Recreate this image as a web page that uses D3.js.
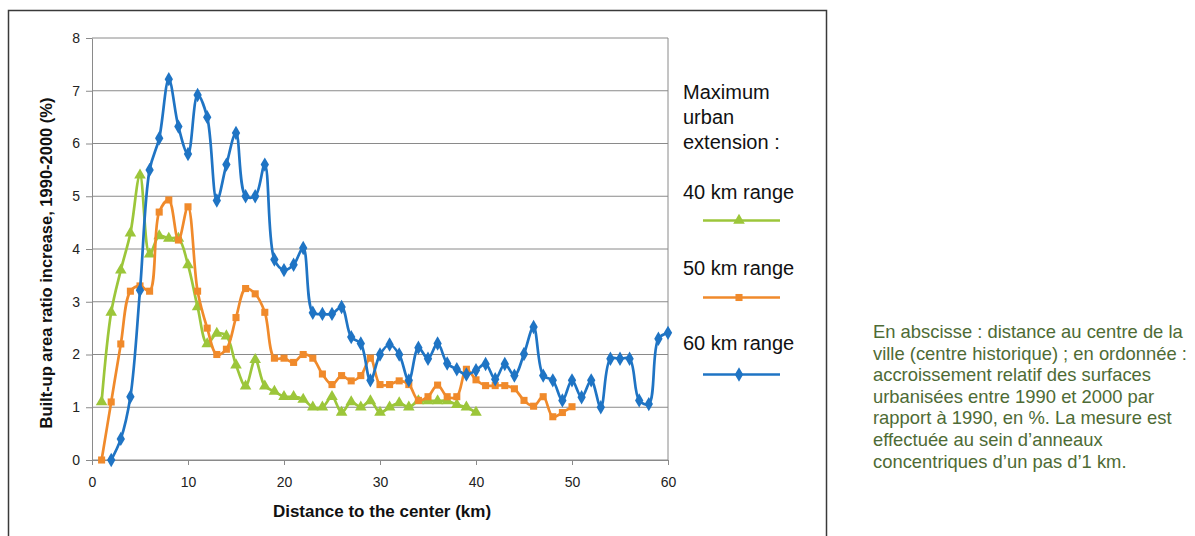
<!DOCTYPE html>
<html>
<head>
<meta charset="utf-8">
<script src="https://cdn.jsdelivr.net/npm/d3@7"></script>
<style>
  body { margin: 0; background: #fff; }
  svg { display: block; font-family: "Liberation Sans", Arial, sans-serif; }
</style>
</head>
<body>
<div id="graph"></div>
<script>
// distance to the center (km), one array per series
const km40 = d3.range(1, 41);
const km50 = d3.range(1, 51);
const km60 = d3.range(2, 61);

// built-up area ratio increase 1990-2000 (%)
const range40 = [
  1.1, 2.8, 3.6, 4.3, 5.4, 3.9, 4.25, 4.2, 4.2, 3.7,
  2.9, 2.2, 2.4, 2.35, 1.8, 1.4, 1.9, 1.4, 1.3, 1.2,
  1.2, 1.15, 1.0, 1.0, 1.2, 0.9, 1.1, 1.0, 1.12, 0.9,
  1.0, 1.08, 1.0, 1.12, 1.12, 1.12, 1.12, 1.05, 1.0, 0.9
];
const range50 = [
  0, 1.1, 2.2, 3.2, 3.3, 3.2, 4.7, 4.93, 4.17, 4.8,
  3.2, 2.5, 2.0, 2.1, 2.7, 3.25, 3.15, 2.8, 1.93, 1.93,
  1.85, 2.0, 1.93, 1.63, 1.43, 1.6, 1.5, 1.6, 1.93, 1.43,
  1.43, 1.5, 1.43, 1.13, 1.2, 1.42, 1.2, 1.2, 1.72, 1.52,
  1.41, 1.41, 1.41, 1.35, 1.13, 1.02, 1.2, 0.82, 0.9, 1.01
];
const range60 = [
  0, 0.4, 1.2, 3.22, 5.5, 6.1, 7.22, 6.32, 5.8, 6.92,
  6.5, 4.92, 5.6, 6.2, 5.0, 5.0, 5.6, 3.8, 3.6, 3.7,
  4.02, 2.79, 2.77, 2.77, 2.9, 2.33, 2.21, 1.51, 2.0, 2.19,
  2.0, 1.51, 2.13, 1.92, 2.21, 1.83, 1.72, 1.62, 1.7, 1.82,
  1.53, 1.82, 1.6, 2.01, 2.52, 1.6, 1.51, 1.13, 1.51, 1.19,
  1.51, 1.0, 1.92, 1.92, 1.92, 1.13, 1.06, 2.3, 2.41
];

const seriesNames = ["40 km range", "50 km range", "60 km range"];
const xTicks = [0, 10, 20, 30, 40, 50, 60];
const yTicks = [0, 1, 2, 3, 4, 5, 6, 7, 8];

const legendTitle = ["Maximum", "urban", "extension :"];
const note = [
  "En abscisse : distance au centre de la",
  "ville (centre historique) ; en ordonnée :",
  "accroissement relatif des surfaces",
  "urbanisées entre 1990 et 2000 par",
  "rapport à 1990, en %. La mesure est",
  "effectuée au sein d’anneaux",
  "concentriques d’un pas d’1 km."
];

const series = [
  { name: seriesNames[0], xs: km40, ys: range40, color: "#9cc63a", symbol: d3.symbolTriangle, size: 58 },
  { name: seriesNames[1], xs: km50, ys: range50, color: "#f08a2b", symbol: d3.symbolSquare, size: 50 },
  { name: seriesNames[2], xs: km60, ys: range60, color: "#1f74c4", symbol: d3.symbolDiamond, size: 60 }
];

const W = 1195, H = 536;
const plot = { left: 92, top: 38, right: 668, bottom: 460 };

const svg = d3.select("#graph").append("svg")
  .attr("width", W)
  .attr("height", H);

svg.append("rect").attr("width", W).attr("height", H).attr("fill", "#fff");

// outer chart frame (runs off the bottom of the picture)
svg.append("rect")
  .attr("x", 8.5).attr("y", 10.5)
  .attr("width", 818).attr("height", 560)
  .attr("fill", "none")
  .attr("stroke", "#3a3a3a")
  .attr("stroke-width", 1.5);

const x = d3.scaleLinear().domain([0, 60]).range([plot.left, plot.right]);
const y = d3.scaleLinear().domain([0, 8]).range([plot.bottom, plot.top]);

// horizontal gridlines
svg.append("g")
  .selectAll("line")
  .data(yTicks)
  .join("line")
  .attr("x1", plot.left).attr("x2", plot.right)
  .attr("y1", d => y(d)).attr("y2", d => y(d))
  .attr("stroke", "#8a8a8a")
  .attr("stroke-width", 1);

// right edge of the plot area
svg.append("line")
  .attr("x1", plot.right).attr("x2", plot.right)
  .attr("y1", plot.top).attr("y2", plot.bottom)
  .attr("stroke", "#8a8a8a");

// y axis
svg.append("g")
  .attr("transform", `translate(${plot.left},0)`)
  .call(d3.axisLeft(y).tickValues(yTicks).tickSize(6).tickPadding(6).tickSizeOuter(0))
  .call(g => g.select(".domain").attr("stroke", "#8a8a8a"))
  .call(g => g.selectAll(".tick line").attr("stroke", "#8a8a8a"))
  .call(g => g.selectAll(".tick text")
    .attr("font-size", 14)
    .attr("font-family", "Liberation Sans, Arial, sans-serif")
    .attr("fill", "#222"));

// x axis
svg.append("g")
  .attr("transform", `translate(0,${plot.bottom})`)
  .call(d3.axisBottom(x).tickValues(xTicks).tickSize(5).tickPadding(12).tickSizeOuter(0))
  .call(g => g.select(".domain").attr("stroke", "#8a8a8a"))
  .call(g => g.selectAll(".tick line").attr("stroke", "#8a8a8a"))
  .call(g => g.selectAll(".tick text")
    .attr("font-size", 14)
    .attr("font-family", "Liberation Sans, Arial, sans-serif")
    .attr("fill", "#222"));

// axis titles
svg.append("text")
  .attr("x", 382).attr("y", 517)
  .attr("text-anchor", "middle")
  .attr("font-size", 17)
  .attr("font-weight", "bold")
  .attr("fill", "#111")
  .text("Distance to the center (km)");

svg.append("text")
  .attr("transform", "translate(52,263) rotate(-90)")
  .attr("text-anchor", "middle")
  .attr("font-size", 16.5)
  .attr("font-weight", "bold")
  .attr("fill", "#111")
  .text("Built-up area ratio increase, 1990-2000 (%)");

// lines + markers, smoothed like the spreadsheet original
const line = d3.line()
  .x(d => x(d[0]))
  .y(d => y(d[1]))
  .curve(d3.curveCatmullRom.alpha(0.5));

series.forEach(s => {
  const pts = s.xs.map((d, i) => [d, s.ys[i]]);
  svg.append("path")
    .datum(pts)
    .attr("fill", "none")
    .attr("stroke", s.color)
    .attr("stroke-width", 2.7)
    .attr("d", line);

  svg.append("g")
    .selectAll("path")
    .data(pts)
    .join("path")
    .attr("transform", d => `translate(${x(d[0])},${y(d[1])})`)
    .attr("d", d3.symbol().type(s.symbol).size(s.size))
    .attr("fill", s.color);
});

// legend
const legend = svg.append("g").attr("id", "legend");
legend.selectAll(".legendTitle")
  .data(legendTitle)
  .join("text")
  .attr("class", "legendTitle")
  .attr("x", 683)
  .attr("y", (d, i) => 99 + 25 * i)
  .attr("font-size", 20)
  .attr("fill", "#111")
  .text(d => d);

series.forEach((s, i) => {
  const top = 199 + 75.5 * i;
  const ly = top + 21.5 + 1.5 * i;
  legend.append("text")
    .attr("x", 683).attr("y", top)
    .attr("font-size", 20)
    .attr("fill", "#111")
    .text(s.name);
  legend.append("line")
    .attr("x1", 703).attr("x2", 780)
    .attr("y1", ly).attr("y2", ly)
    .attr("stroke", s.color)
    .attr("stroke-width", 2.7);
  legend.append("path")
    .attr("transform", `translate(739,${ly})`)
    .attr("d", d3.symbol().type(s.symbol).size(s.size))
    .attr("fill", s.color);
});

// note on the right
svg.append("g")
  .selectAll("text")
  .data(note)
  .join("text")
  .attr("x", 873)
  .attr("y", (d, i) => 338 + 21.6 * i)
  .attr("font-size", 18.4)
  .attr("fill", "#4e6b35")
  .text(d => d);
</script>
</body>
</html>
